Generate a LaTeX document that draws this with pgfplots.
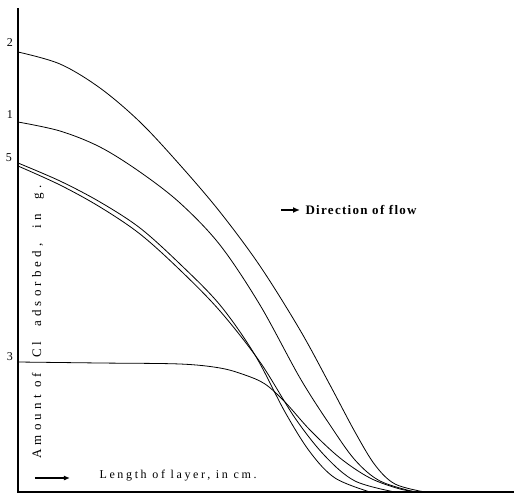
\documentclass[border=0pt]{standalone}
\usepackage{pgfplots}
\pgfplotsset{compat=1.18}
\usepackage{fontspec}
\setmainfont{Liberation Serif}
\newfontfamily\ylab[LetterSpace=32]{Liberation Serif}
\newfontfamily\xlab[LetterSpace=22]{Liberation Serif}
\newfontfamily\dflow[LetterSpace=10]{Liberation Serif}
\usetikzlibrary{arrows.meta}
\begin{document}
\begin{tikzpicture}
\useasboundingbox (-18pt,-9pt) rectangle (496pt,492pt);
\begin{axis}[
  scale only axis, width=496pt, height=484pt,
  xmin=18, xmax=514, ymin=8, ymax=492, y dir=reverse,
  hide axis, clip=false,
]
\pgfplotsset{curve/.style={black, line width=0.8pt, smooth, tension=0.55, mark=none}}
% curve 2 (top)
\addplot[curve] coordinates {(18,52) (60,64) (100,88) (140,122) (180,165) (220,212) (260,266) (300,330) (330,385) (355,432) (375,465) (395,484) (425,492)};
% curve 1
\addplot[curve] coordinates {(18,122) (60,131) (100,147) (140,172) (180,203) (220,245) (260,305) (300,378) (330,425) (355,460) (380,481) (415,492)};
% curve 5 (pair)
\addplot[curve] coordinates {(18,163) (60,181) (100,202) (140,228) (180,264) (220,305) (255,355) (285,412) (310,452) (335,478) (370,492)};
\addplot[curve] coordinates {(18,166) (60,185) (100,207) (140,234) (180,270) (220,311) (260,362) (295,418) (325,456) (355,481) (395,492)};
% curve 3 (bottom)
\addplot[curve] coordinates {(18,362) (100,363) (180,364) (220,368) (245,375) (265,384) (285,402) (310,430) (340,458) (370,478) (400,489) (420,492)};
% axes
\draw[black, line width=1.1pt] (axis cs:18,8) -- (axis cs:18,492) -- (axis cs:514,492);
% curve numbers
\node[font=\fontsize{12}{12}\selectfont] at (axis cs:10,43) {2};
\node[font=\fontsize{12}{12}\selectfont] at (axis cs:10,115) {1};
\node[font=\fontsize{12}{12}\selectfont] at (axis cs:9,158) {5};
\node[font=\fontsize{12}{12}\selectfont] at (axis cs:10,357) {3};
% y label
\node[rotate=90, font=\ylab\fontsize{13}{13}\selectfont] at (axis cs:38,322) {Amount of\ \ Cl\ \ adsorbed,\ \ in\ \ g.};
% x label with arrow
\draw[-{Latex[length=6pt,width=5pt]}, line width=1.2pt] (axis cs:35,478) -- (axis cs:70,478);
\node[anchor=west, font=\xlab\fontsize{12}{12}\selectfont] at (axis cs:96,476) {Length of layer,\ in cm.};
% direction of flow
\draw[-{Latex[length=7pt,width=6pt]}, line width=1.4pt] (axis cs:281,210) -- (axis cs:300,210);
\node[anchor=west, font=\dflow\bfseries\fontsize{13}{13}\selectfont] at (axis cs:302,210) {Direction of flow};
\end{axis}
\end{tikzpicture}
\end{document}
